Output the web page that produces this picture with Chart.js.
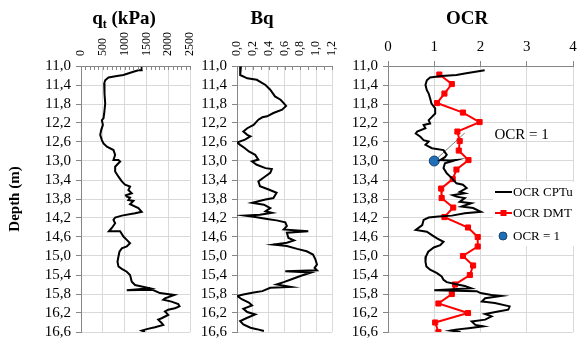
<!DOCTYPE html>
<html><head><meta charset="utf-8">
<script src="https://cdn.jsdelivr.net/npm/chart.js@4.4.1/dist/chart.umd.min.js"></script>
<style>
html,body{margin:0;padding:0;background:#fff;}
#wrap{position:relative;width:579px;height:340px;overflow:hidden;background:#fff;}
canvas{position:absolute;left:0;top:0;}
</style></head><body>
<div id="wrap">
<canvas id="c1" width="579" height="340"></canvas>
<canvas id="c2" width="579" height="340"></canvas>
<canvas id="c3" width="579" height="340"></canvas>
</div>
<script>
// ---------- tick labels ----------
const depthTicks = [11.0,11.4,11.8,12.2,12.6,13.0,13.4,13.8,14.2,14.6,15.0,15.4,15.8,16.2,16.6];
const qtTicks = [0,500,1000,1500,2000,2500];
const bqTicks = [0,0.2,0.4,0.6,0.8,1.0,1.2];
const ocrTicks = [0,1,2,3,4];

// ---------- qt (kPa) ----------
const qtDepth = [11.02,11.09,11.09,11.12,11.19,11.21,11.24,11.30,11.37,11.58,11.79,12.00,12.10,12.14,12.24,12.35,12.45,12.56,12.63,12.70,12.77,12.87,12.98,12.98,13.01,13.12,13.22,13.33,13.43,13.50,13.54,13.61,13.68,13.72,13.75,13.77,13.82,13.84,13.91,13.99,14.07,14.10,14.15,14.19,14.24,14.31,14.41,14.48,14.48,14.59,14.66,14.73,14.80,14.84,14.91,15.01,15.12,15.22,15.27,15.33,15.40,15.54,15.61,15.64,15.68,15.72,15.71,15.75,15.78,15.82,15.89,15.92,15.96,16.01,16.06,16.10,16.13,16.17,16.24,16.31,16.34,16.41,16.45,16.50,16.54,16.57,16.60];
const qtValue = [1392,1392,1316,1201,973,822,631,555,532,539,555,532,516,479,502,463,441,479,516,594,745,783,745,859,897,783,783,859,936,1011,1125,1087,1164,1030,1050,1125,1087,1201,1125,1316,1392,1240,936,783,745,783,707,640,897,973,1050,1125,1050,936,882,859,837,859,936,1050,1125,1164,1240,1392,1582,1050,1640,1735,1810,2140,1925,1886,2077,2230,2260,2153,2000,1925,2000,1849,1772,1849,1886,1696,1507,1392,1468];

// ---------- Bq ----------
const bqDepth = [11.01,11.19,11.26,11.29,11.40,11.50,11.64,11.71,11.78,11.84,11.92,11.99,12.06,12.08,12.13,12.24,12.31,12.38,12.45,12.48,12.55,12.61,12.66,12.73,12.80,12.87,12.97,13.01,13.08,13.15,13.17,13.25,13.32,13.43,13.53,13.60,13.67,13.78,13.81,13.88,13.92,13.99,14.06,14.09,14.13,14.15,14.18,14.22,14.25,14.29,14.37,14.44,14.48,14.51,14.62,14.67,14.72,14.76,14.79,14.85,14.90,14.97,15.07,15.18,15.25,15.30,15.32,15.35,15.42,15.49,15.55,15.60,15.65,15.67,15.74,15.77,15.81,15.84,15.91,15.98,16.04,16.11,16.18,16.23,16.30,16.37,16.44,16.51,16.54,16.58];
const bqValue = [0.05,0.04,0.13,0.25,0.36,0.42,0.48,0.55,0.59,0.62,0.57,0.46,0.38,0.32,0.27,0.21,0.13,0.08,0.13,0.17,0.10,0.00,0.04,0.10,0.15,0.23,0.27,0.19,0.25,0.36,0.44,0.42,0.36,0.27,0.29,0.40,0.50,0.46,0.36,0.19,0.34,0.42,0.36,0.44,0.29,0.10,0.23,0.38,0.50,0.61,0.63,0.59,0.90,0.63,0.65,0.72,0.63,0.46,0.63,0.76,0.88,0.96,0.99,1.01,0.98,1.01,0.61,0.93,0.80,0.69,0.59,0.50,0.68,0.42,0.32,0.21,0.08,0.00,0.06,0.15,0.19,0.08,0.13,0.23,0.13,0.04,0.08,0.17,0.25,0.34];

// ---------- OCR CPTu ----------
const cptDepth = [11.09,11.16,11.19,11.21,11.24,11.30,11.40,11.51,11.58,11.68,11.79,11.89,12.00,12.07,12.14,12.21,12.24,12.31,12.38,12.42,12.49,12.56,12.59,12.66,12.73,12.77,12.87,12.92,12.98,12.99,12.98,13.05,13.15,13.26,13.36,13.47,13.50,13.57,13.65,13.68,13.72,13.75,13.78,13.86,13.89,13.96,13.99,14.07,14.10,14.15,14.17,14.19,14.24,14.35,14.45,14.49,14.56,14.63,14.70,14.77,14.82,14.91,15.01,15.12,15.22,15.29,15.36,15.43,15.50,15.55,15.59,15.63,15.68,15.72,15.74,15.78,15.82,15.84,15.89,15.96,15.99,16.06,16.13,16.17,16.22,16.27,16.34,16.38,16.45,16.48,16.52,16.55,16.57,16.60];
const cptValue = [2.09,1.66,1.48,1.16,0.91,0.84,0.81,0.84,0.88,0.91,0.94,1.02,1.02,0.95,0.88,0.91,0.77,0.81,0.63,0.60,0.70,0.77,0.88,0.81,0.95,1.20,1.27,1.23,1.13,1.34,1.48,1.23,1.20,1.27,1.38,1.48,1.62,1.70,1.55,1.66,1.40,1.48,1.66,1.55,1.80,1.59,1.84,2.01,1.66,1.38,1.09,0.88,0.77,0.74,0.60,0.84,0.95,1.06,1.20,1.13,0.99,0.87,0.82,0.81,0.83,0.91,1.06,1.16,1.20,1.27,1.45,1.66,1.80,1.00,1.92,2.00,2.24,2.45,2.10,2.03,2.31,2.63,2.60,2.38,2.10,2.24,2.10,1.81,1.89,2.06,1.74,1.46,1.35,1.57];

// ---------- OCR DMT ----------
const dmtDepth = [11.18,11.38,11.58,11.78,11.98,12.18,12.38,12.58,12.78,12.98,13.18,13.38,13.58,13.78,13.98,14.18,14.40,14.60,14.80,15.00,15.20,15.40,15.60,15.80,16.00,16.20,16.40,16.60];
const dmtValue = [1.11,1.38,1.22,1.06,1.62,1.98,1.50,1.55,1.53,1.74,1.48,1.40,1.15,1.16,1.41,1.22,1.73,1.94,1.94,1.62,1.84,1.77,1.45,1.38,1.09,1.73,1.02,1.09];

// ---------- OCR = 1 ----------
const ocr1Depth = [13.0];
const ocr1Value = [1.0];

const seriesNames = ['OCR CPTu','OCR DMT','OCR = 1'];
const annotationText = 'OCR = 1';

// ---------- helpers ----------
const FONT = '"Liberation Serif", "Times New Roman", serif';
Chart.defaults.font.family = FONT;
Chart.defaults.color = '#000';
const AXIS = '#868686', GRID = '#d9d9d9';
const zip = (xs, ys) => xs.map((v, i) => ({x: v, y: ys[i]}));
const fmt1 = v => Number(v).toFixed(1).replace('.', ',');

function yAxis(width, showTitle) {
  return {
    type: 'linear', reverse: true, min: 11, max: 16.6,
    afterBuildTicks: s => { s.ticks = depthTicks.map(v => ({value: v})); },
    afterFit: s => { s.width = width; s.paddingTop = 0; s.paddingBottom = 0; },
    ticks: {font: {size: 15}, color: '#000', padding: 5, autoSkip: false, callback: v => fmt1(v)},
    grid: {color: GRID, lineWidth: 1, drawTicks: true, tickLength: 5, tickColor: AXIS},
    border: {color: AXIS, width: 1},
    title: {display: showTitle, text: 'Depth (m)', color: '#000',
            font: {size: 15, weight: 'bold'}, padding: {top: 6, bottom: 0}}
  };
}
const ROT_SIZE = 12;
function xAxis(min, max, ticksArr, fmt, rotated, height) {
  return {
    type: 'linear', position: 'top', min: min, max: max,
    afterBuildTicks: s => { s.ticks = ticksArr.map(v => ({value: v})); },
    afterFit: s => { s.height = height; s.paddingLeft = 0; s.paddingRight = 0; },
    ticks: rotated
      ? {font: {size: ROT_SIZE}, color: '#000', minRotation: 90, maxRotation: 90, padding: 10,
         labelOffset: ROT_SIZE * 1.2, autoSkip: false, callback: fmt}
      : {font: {size: 15}, color: '#000', maxRotation: 0, padding: 5, autoSkip: false, callback: fmt},
    grid: {color: GRID, lineWidth: 1, drawTicks: !rotated, tickLength: 5, tickColor: AXIS},
    border: {color: AXIS, width: 1}
  };
}
function innerTicks(step) {
  return {
    id: 'innerTicks',
    afterDraw(chart) {
      const s = chart.scales.x, ctx = chart.ctx;
      ctx.save(); ctx.strokeStyle = AXIS; ctx.lineWidth = 1; ctx.beginPath();
      const n = Math.round((s.max - s.min) / step);
      for (let i = 0; i <= n; i++) {
        const px = Math.round(s.getPixelForValue(s.min + i * step)) + 0.5;
        ctx.moveTo(px, s.bottom); ctx.lineTo(px, s.bottom + 4);
      }
      ctx.stroke(); ctx.restore();
    }
  };
}
function titlePlugin(cx, baseline, parts) {
  return {
    id: 'panelTitle',
    afterDraw(chart) {
      const ctx = chart.ctx;
      ctx.save(); ctx.fillStyle = '#000'; ctx.textBaseline = 'alphabetic'; ctx.textAlign = 'left';
      let total = 0;
      parts.forEach(p => { ctx.font = 'bold ' + p.size + 'px ' + FONT; p.w = ctx.measureText(p.text).width; total += p.w; });
      let x = cx - total / 2;
      parts.forEach(p => { ctx.font = 'bold ' + p.size + 'px ' + FONT; ctx.fillText(p.text, x, baseline + (p.dy || 0)); x += p.w; });
      ctx.restore();
    }
  };
}
const lineDs = (label, data, color) => ({
  label, data, showLine: true, borderColor: color, backgroundColor: color,
  borderWidth: 2, pointRadius: 0, pointHoverRadius: 0, tension: 0
});
const baseOpts = (padding, scales) => ({
  responsive: false, animation: false, devicePixelRatio: 1,
  layout: {padding},
  plugins: {legend: {display: false}, tooltip: {enabled: false}},
  events: [],
  scales
});

// ---------- Panel 1: qt ----------
new Chart(document.getElementById('c1'), {
  type: 'scatter',
  data: {datasets: [lineDs('qt', zip(qtValue, qtDepth), '#000')]},
  options: baseOpts({left: 0, right: 389, top: 0, bottom: 8}, {
    x: xAxis(0, 2500, qtTicks, v => String(v), true, 66),
    y: yAxis(81, true)
  }),
  plugins: [innerTicks(100), titlePlugin(124, 24, [{text: 'q', size: 19}, {text: 't', size: 12, dy: 4}, {text: ' (kPa)', size: 19}])]
});

// ---------- Panel 2: Bq ----------
new Chart(document.getElementById('c2'), {
  type: 'scatter',
  data: {datasets: [lineDs('Bq', zip(bqValue, bqDepth), '#000')]},
  options: baseOpts({left: 192, right: 247, top: 0, bottom: 8}, {
    x: xAxis(0, 1.2, bqTicks, v => fmt1(v), true, 66),
    y: yAxis(45, false)
  }),
  plugins: [innerTicks(0.1), titlePlugin(262, 24, [{text: 'Bq', size: 19}])]
});

// ---------- Panel 3: OCR ----------
const annFrom = [1.0, 13.0], annTo = [1.66, 12.41], annTextPos = [2.3, 12.46];
const ocrExtras = {
  id: 'ocrExtras',
  beforeDatasetsDraw(chart) {
    const {ctx, scales: {x, y}} = chart;
    ctx.save(); ctx.strokeStyle = '#7f7f7f'; ctx.lineWidth = 1;
    ctx.beginPath();
    ctx.moveTo(x.getPixelForValue(annFrom[0]), y.getPixelForValue(annFrom[1]));
    ctx.lineTo(x.getPixelForValue(annTo[0]), y.getPixelForValue(annTo[1]));
    ctx.stroke(); ctx.restore();
  },
  afterDraw(chart) {
    const {ctx, scales: {x, y}} = chart;
    const ds = chart.data.datasets;
    ctx.save();
    ctx.fillStyle = '#000'; ctx.font = '15px ' + FONT; ctx.textBaseline = 'middle'; ctx.textAlign = 'left';
    ctx.fillText(annotationText, x.getPixelForValue(annTextPos[0]), y.getPixelForValue(annTextPos[1]));
    // legend
    const lx = 493, ly = 182;
    ctx.fillStyle = '#fff'; ctx.fillRect(lx, ly, 86, 64);
    ctx.font = '13px ' + FONT;
    const rows = [192, 213, 236];
    ctx.strokeStyle = ds[0].borderColor; ctx.lineWidth = 2;
    ctx.beginPath(); ctx.moveTo(495, rows[0]); ctx.lineTo(512, rows[0]); ctx.stroke();
    ctx.strokeStyle = ds[1].borderColor;
    ctx.beginPath(); ctx.moveTo(495, rows[1]); ctx.lineTo(512, rows[1]); ctx.stroke();
    ctx.fillStyle = ds[1].pointBackgroundColor; ctx.fillRect(500.5, rows[1] - 3, 6, 6);
    ctx.fillStyle = ds[2].pointBackgroundColor; ctx.strokeStyle = ds[2].pointBorderColor; ctx.lineWidth = 1;
    ctx.beginPath(); ctx.arc(503, rows[2], 4, 0, Math.PI * 2); ctx.fill(); ctx.stroke();
    ctx.fillStyle = '#000';
    ds.forEach((d, i) => ctx.fillText(d.label, 513, rows[i] + 1));
    ctx.restore();
  }
};
new Chart(document.getElementById('c3'), {
  type: 'scatter',
  data: {datasets: [
    lineDs(seriesNames[0], zip(cptValue, cptDepth), '#000'),
    {label: seriesNames[1], data: zip(dmtValue, dmtDepth), showLine: true, borderColor: '#ff0000',
     backgroundColor: '#ff0000', pointBackgroundColor: '#ff0000', pointBorderColor: '#ff0000',
     borderWidth: 2, pointStyle: 'rect', pointRadius: 3.6, pointBorderWidth: 1, tension: 0},
    {label: seriesNames[2], data: zip(ocr1Value, ocr1Depth), showLine: false,
     pointBackgroundColor: '#1f6fb8', pointBorderColor: '#17456f', backgroundColor: '#1f6fb8',
     pointRadius: 5, pointBorderWidth: 1}
  ]},
  options: baseOpts({left: 340, right: 3, top: 0, bottom: 8}, {
    x: xAxis(0, 4, ocrTicks, v => String(v), false, 66),
    y: yAxis(48, false)
  }),
  plugins: [ocrExtras, titlePlugin(467, 24, [{text: 'OCR', size: 19}])]
});
</script>
</body></html>
